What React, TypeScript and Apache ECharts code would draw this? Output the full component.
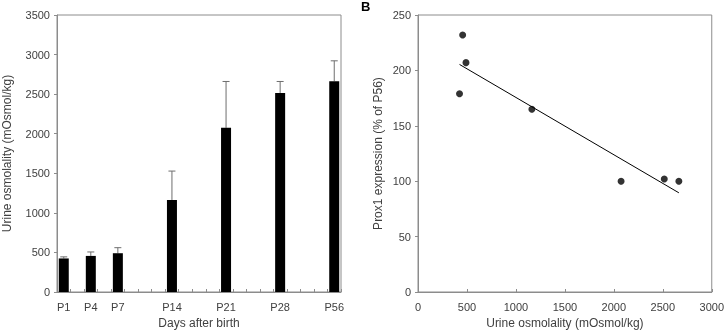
import React, { useEffect, useRef } from "react";
import * as echarts from "echarts";

// Panel A: urine osmolality by postnatal day
const axisSlots = ["P1", "", "P4", "", "P7", "", "", "", "P14", "", "", "", "P21", "", "", "", "P28", "", "", "", "P56"];
const days = ["P1", "P4", "P7", "P14", "P21", "P28", "P56"];
const osmolality = [424, 456, 490, 1163, 2074, 2515, 2664];
const osmolalityErr = [20, 50, 70, 365, 586, 145, 257];

// Panel B: Prox1 expression vs urine osmolality
const prox1Expression = [179, 232, 207, 165, 100, 102, 100];

const leftTicks = [0, 500, 1000, 1500, 2000, 2500, 3000, 3500];
const rightYTicks = [0, 50, 100, 150, 200, 250];
const rightXTicks = [0, 500, 1000, 1500, 2000, 2500, 3000];

const FONT = "Liberation Sans, Arial, sans-serif";
const GRAY = "#8c8c8c";
const TEXT = "#404040";

export default function App() {
  const ref = useRef<HTMLDivElement>(null);
  useEffect(() => {
    if (!ref.current) return;
    const chart = echarts.init(ref.current, undefined, { renderer: "svg" });

    const barData = axisSlots.map((s) => {
      const i = days.indexOf(s);
      return s && i >= 0 ? osmolality[i] : null;
    });
    const errData = days.map((d, i) => [axisSlots.indexOf(d), osmolality[i], osmolality[i] + osmolalityErr[i]]);
    const scatterData = osmolality.map((x, i) => [x, prox1Expression[i]]);

    // least-squares trend line
    const n = osmolality.length;
    const mx = osmolality.reduce((a, b) => a + b, 0) / n;
    const my = prox1Expression.reduce((a, b) => a + b, 0) / n;
    let sxy = 0, sxx = 0;
    for (let i = 0; i < n; i++) {
      sxy += (osmolality[i] - mx) * (prox1Expression[i] - my);
      sxx += (osmolality[i] - mx) ** 2;
    }
    const slope = sxy / sxx;
    const icpt = my - slope * mx;
    const xMin = Math.min(...osmolality);
    const xMax = Math.max(...osmolality);
    const trend = [[xMin, icpt + slope * xMin], [xMax, icpt + slope * xMax]];

    const plain = (v: number) => String(v);
    const axisLabel = { color: TEXT, fontSize: 11, fontFamily: FONT };
    const nameStyle = { color: TEXT, fontSize: 12, fontFamily: FONT };

    chart.setOption({
      animation: false,
      textStyle: { fontFamily: FONT },
      grid: [
        { left: 43, right: 386, top: 15, bottom: 37, show: true, borderColor: GRAY, borderWidth: 1 },
        { left: 418, right: 10, top: 15, bottom: 37, show: true, borderColor: GRAY, borderWidth: 1 },
      ],
      graphic: [
        { type: "text", left: 361, top: 0, style: { text: "B", font: "bold 13px " + FONT, fill: "#000" } },
      ],
      xAxis: [
        {
          type: "category",
          gridIndex: 0,
          data: axisSlots,
          boundaryGap: true,
          axisLine: { lineStyle: { color: GRAY } },
          axisTick: { show: true, interval: 0, inside: true, length: 3, lineStyle: { color: GRAY } },
          axisLabel: { ...axisLabel, interval: 0, margin: 9 },
          name: "Days after birth",
          nameLocation: "middle",
          nameGap: 25,
          nameTextStyle: nameStyle,
        },
        {
          type: "value",
          gridIndex: 1,
          min: 0,
          max: 3000,
          interval: 500,
          splitLine: { show: false },
          axisLine: { show: true, lineStyle: { color: GRAY } },
          axisTick: { show: true, inside: true, length: 3, lineStyle: { color: GRAY } },
          axisLabel: { ...axisLabel, margin: 9, customValues: rightXTicks, formatter: plain },
          name: "Urine osmolality (mOsmol/kg)",
          nameLocation: "middle",
          nameGap: 25,
          nameTextStyle: nameStyle,
        },
      ],
      yAxis: [
        {
          type: "value",
          gridIndex: 0,
          min: 0,
          max: 3500,
          interval: 500,
          splitLine: { show: false },
          axisLine: { show: true, lineStyle: { color: GRAY } },
          axisTick: { show: true, length: 3, lineStyle: { color: GRAY } },
          axisLabel: { ...axisLabel, margin: 7, customValues: leftTicks, formatter: plain },
          name: "Urine osmolality (mOsmol/kg)",
          nameLocation: "middle",
          nameGap: 44,
          nameTextStyle: nameStyle,
        },
        {
          type: "value",
          gridIndex: 1,
          min: 0,
          max: 250,
          interval: 50,
          splitLine: { show: false },
          axisLine: { show: true, lineStyle: { color: GRAY } },
          axisTick: { show: true, length: 3, lineStyle: { color: GRAY } },
          axisLabel: { ...axisLabel, margin: 7, customValues: rightYTicks, formatter: plain },
          name: "Prox1 expression (% of P56)",
          nameLocation: "middle",
          nameGap: 34,
          nameTextStyle: nameStyle,
        },
      ],
      series: [
        {
          type: "bar",
          xAxisIndex: 0,
          yAxisIndex: 0,
          data: barData,
          barWidth: 10,
          itemStyle: { color: "#000" },
        },
        {
          type: "custom",
          xAxisIndex: 0,
          yAxisIndex: 0,
          data: errData,
          z: 1,
          renderItem: (params: any, api: any) => {
            const base = api.coord([api.value(0), api.value(1)]);
            const top = api.coord([api.value(0), api.value(2)]);
            const hw = 3.5;
            const style = { stroke: "#6e6e6e", lineWidth: 1 };
            return {
              type: "group",
              children: [
                { type: "line", shape: { x1: base[0], y1: base[1], x2: top[0], y2: top[1] }, style },
                { type: "line", shape: { x1: top[0] - hw, y1: top[1], x2: top[0] + hw, y2: top[1] }, style },
              ],
            };
          },
        },
        {
          type: "line",
          xAxisIndex: 1,
          yAxisIndex: 1,
          data: trend,
          symbol: "none",
          lineStyle: { color: "#000", width: 1 },
        },
        {
          type: "scatter",
          xAxisIndex: 1,
          yAxisIndex: 1,
          data: scatterData,
          symbolSize: 7,
          itemStyle: { color: "#000" },
        },
      ],
    });
    return () => chart.dispose();
  }, []);
  return <div ref={ref} style={{ position: "fixed", left: 0, top: 0, width: 727, height: 334 }} />;
}
